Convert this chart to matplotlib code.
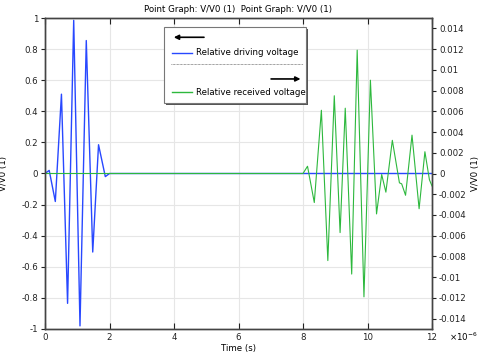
import matplotlib
matplotlib.use("Agg")
import matplotlib.pyplot as plt
from matplotlib.patches import Rectangle
from matplotlib.lines import Line2D
from matplotlib.ticker import MultipleLocator, FuncFormatter

plt.rcParams['axes.unicode_minus'] = False
plt.rcParams['font.family'] = 'DejaVu Sans'

# time in microseconds (extremes)
t_drive = [0, 0.13, 0.32, 0.51, 0.70, 0.89, 1.085, 1.28, 1.48, 1.66, 1.87, 2.0, 12.0]
v_drive = [0, 0.02, -0.18, 0.51, -0.835, 0.985, -0.98, 0.855, -0.505, 0.185, -0.02, 0, 0]

t_recv = [0, 8.0, 8.14, 8.35, 8.57, 8.77, 8.97, 9.15, 9.31, 9.51, 9.68, 9.89,
          10.09, 10.28, 10.44, 10.57, 10.77, 10.99, 11.06, 11.18, 11.38, 11.60,
          11.78, 11.92, 12.0]
v_recv = [0, 0, 0.0007, -0.0028, 0.0061, -0.0084, 0.0075, -0.0057, 0.0063, -0.0097,
          0.0119, -0.0119, 0.0090, -0.0039, -0.0001, -0.0018, 0.0032, -0.0009,
          -0.0010, -0.0021, 0.0037, -0.0034, 0.0021, -0.0006, -0.0012]

labels = ["Relative driving voltage", "Relative received voltage"]
blue = '#2848ff'
green = '#2db83d'
fs = 6.2

fig = plt.figure(figsize=(4.8, 3.56), dpi=100)
ax = fig.add_axes([45/480, 1 - 329/356, 387/480, 311/356])
ax2 = ax.twinx()

ax.plot(t_drive, v_drive, color=blue, lw=1.0)
ax2.plot(t_recv, v_recv, color=green, lw=0.8)

ax.set_xlim(0, 12)
ax.set_ylim(-1, 1)
ax2.set_ylim(-0.015, 0.015)

ax.xaxis.set_major_locator(MultipleLocator(2))
ax.yaxis.set_major_locator(MultipleLocator(0.2))
ax2.yaxis.set_major_locator(MultipleLocator(0.002))
fmt = FuncFormatter(lambda v, p: '%g' % round(v, 6))
ax.yaxis.set_major_formatter(fmt)
ax2.yaxis.set_major_formatter(fmt)
ax.xaxis.set_major_formatter(fmt)

ax.grid(True, color='#e6e6e6', lw=0.8)
ax.set_axisbelow(True)

ax.tick_params(axis='x', direction='in', top=True, length=4, labelsize=fs, colors='#222', pad=3)
ax.tick_params(axis='y', direction='out', length=3, labelsize=fs, colors='#222', pad=2)
ax2.tick_params(axis='y', direction='out', length=3, labelsize=fs, colors='#222', pad=2)
for a in (ax, ax2):
    for s in a.spines.values():
        s.set_color('#444')
        s.set_linewidth(1.0)

ax.set_xlabel("Time (s)", fontsize=fs, labelpad=1)
ax.set_ylabel("V/V0 (1)", fontsize=fs)
ax2.set_ylabel("V/V0 (1)", fontsize=fs)
ax.yaxis.set_label_coords(-0.0956, 0.5)
ax2.yaxis.set_label_coords(1.1008, 0.5)
ax.set_title("Point Graph: V/V0 (1)  Point Graph: V/V0 (1)", fontsize=fs, pad=4)
ax.text(1.044, -0.026, r'$\times10^{-6}$', transform=ax.transAxes, fontsize=fs, ha='left', va='center')

# legend box drawn by hand
bx0, bx1, by0, by1 = 0.3075, 0.674, 0.727, 0.972
ax2.add_patch(Rectangle((bx0 + 0.005, by0 - 0.007), bx1 - bx0, by1 - by0, transform=ax.transAxes,
                        facecolor='#555', edgecolor='none', zorder=5, clip_on=False))
ax2.add_patch(Rectangle((bx0, by0), bx1 - bx0, by1 - by0, transform=ax.transAxes,
                        facecolor='white', edgecolor='#777', lw=0.8, zorder=6, clip_on=False))
ax2.annotate('', xy=(0.3256, 0.938), xytext=(0.418, 0.938), xycoords='axes fraction',
             arrowprops=dict(arrowstyle='-|>', color='black', lw=1.2, mutation_scale=7), zorder=7)
ax2.annotate('', xy=(0.6674, 0.804), xytext=(0.577, 0.804), xycoords='axes fraction',
             arrowprops=dict(arrowstyle='-|>', color='black', lw=1.2, mutation_scale=7), zorder=7)
ax2.add_line(Line2D([0.3274, 0.379], [0.888, 0.888], transform=ax.transAxes, color=blue, lw=1.0, zorder=7))
ax2.add_line(Line2D([0.3274, 0.379], [0.761, 0.761], transform=ax.transAxes, color=green, lw=1.0, zorder=7))
ax2.add_line(Line2D([0.3256, 0.6667], [0.851, 0.851], transform=ax.transAxes, color='#444',
                    lw=0.5, ls=(0, (1, 1)), zorder=7))
ax2.text(0.390, 0.888, labels[0], transform=ax.transAxes, fontsize=fs, va='center', zorder=8)
ax2.text(0.390, 0.761, labels[1], transform=ax.transAxes, fontsize=fs, va='center', zorder=8)

fig.savefig("out.png", dpi=100)
